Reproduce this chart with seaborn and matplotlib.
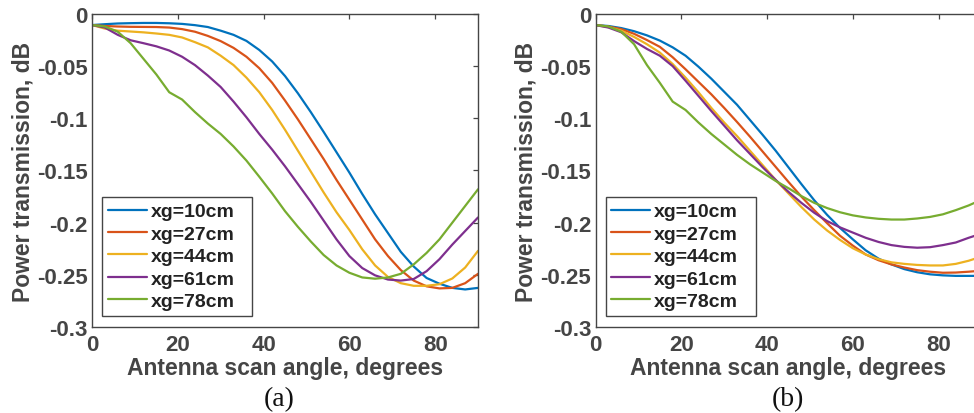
import matplotlib
matplotlib.use("Agg")
import matplotlib.pyplot as plt
import seaborn as sns

# scan angle grid (degrees)
angle = list(range(0, 91, 3))

labels = ["xg=10cm", "xg=27cm", "xg=44cm", "xg=61cm", "xg=78cm"]
colors = ["#0072BD", "#D95319", "#EDB120", "#7E2F8E", "#77AC30"]

# panel (a)
a_xg10 = [-0.0106, -0.0098, -0.0091, -0.0088, -0.0086, -0.0086, -0.0089, -0.0095, -0.0107, -0.0125,
          -0.016, -0.020, -0.0258, -0.0345, -0.0455, -0.0595, -0.076, -0.094, -0.113, -0.1325,
          -0.152, -0.1725, -0.192, -0.210, -0.228, -0.242, -0.253, -0.2585, -0.2625, -0.264, -0.2625]
a_xg27 = [-0.0106, -0.0115, -0.012, -0.0123, -0.0124, -0.0125, -0.013, -0.0145, -0.017, -0.021,
          -0.026, -0.0325, -0.041, -0.052, -0.066, -0.083, -0.101, -0.120, -0.139, -0.159,
          -0.178, -0.197, -0.216, -0.232, -0.2455, -0.2555, -0.261, -0.263, -0.2625, -0.258, -0.249]
a_xg44 = [-0.0106, -0.014, -0.016, -0.0168, -0.0176, -0.0187, -0.020, -0.0225, -0.027, -0.032,
          -0.040, -0.049, -0.061, -0.075, -0.092, -0.111, -0.131, -0.151, -0.171, -0.190,
          -0.207, -0.2255, -0.241, -0.252, -0.258, -0.2605, -0.2605, -0.259, -0.2535, -0.243, -0.227]
a_xg61 = [-0.0106, -0.013, -0.020, -0.0252, -0.028, -0.031, -0.035, -0.041, -0.049, -0.059,
          -0.070, -0.084, -0.099, -0.115, -0.130, -0.146, -0.163, -0.180, -0.198, -0.216,
          -0.232, -0.2435, -0.2505, -0.2545, -0.2555, -0.254, -0.2465, -0.235, -0.221, -0.208, -0.195]
a_xg78 = [-0.0106, -0.012, -0.017, -0.028, -0.043, -0.058, -0.075, -0.082, -0.094, -0.105,
          -0.115, -0.127, -0.1405, -0.156, -0.172, -0.189, -0.204, -0.218, -0.231, -0.241,
          -0.248, -0.2525, -0.2537, -0.2525, -0.249, -0.240, -0.229, -0.216, -0.200, -0.184, -0.168]

# panel (b)
b_xg10 = [-0.0106, -0.0115, -0.0135, -0.0165, -0.0205, -0.0255, -0.032, -0.040, -0.0505, -0.062,
          -0.0745, -0.087, -0.1015, -0.116, -0.131, -0.147, -0.163, -0.1785, -0.1925, -0.205,
          -0.216, -0.2265, -0.2345, -0.240, -0.2445, -0.2475, -0.2495, -0.2505, -0.251, -0.251, -0.251]
b_xg27 = [-0.0106, -0.012, -0.0145, -0.019, -0.025, -0.0315, -0.0415, -0.053, -0.065, -0.077,
          -0.090, -0.1035, -0.1175, -0.132, -0.1465, -0.161, -0.175, -0.188, -0.2005, -0.2125,
          -0.222, -0.2305, -0.236, -0.240, -0.243, -0.2455, -0.247, -0.248, -0.2478, -0.247, -0.246]
b_xg44 = [-0.0106, -0.0125, -0.016, -0.022, -0.029, -0.037, -0.048, -0.061, -0.075, -0.090,
          -0.104, -0.117, -0.131, -0.145, -0.159, -0.172, -0.185, -0.197, -0.2075, -0.2165,
          -0.2245, -0.2305, -0.235, -0.238, -0.2395, -0.2405, -0.241, -0.241, -0.2395, -0.2365, -0.2325]
b_xg61 = [-0.0106, -0.013, -0.0175, -0.026, -0.0335, -0.040, -0.050, -0.064, -0.0785, -0.093,
          -0.107, -0.121, -0.134, -0.147, -0.159, -0.1705, -0.181, -0.1905, -0.1985, -0.2045,
          -0.2095, -0.2145, -0.2185, -0.2215, -0.2232, -0.224, -0.2235, -0.2215, -0.219, -0.2145, -0.2105]
b_xg78 = [-0.0106, -0.012, -0.017, -0.029, -0.049, -0.066, -0.084, -0.092, -0.104, -0.115,
          -0.125, -0.135, -0.144, -0.152, -0.160, -0.167, -0.1745, -0.181, -0.186, -0.190,
          -0.193, -0.195, -0.1963, -0.197, -0.197, -0.196, -0.1945, -0.192, -0.188, -0.1835, -0.178]

yticks = [-0.3, -0.25, -0.2, -0.15, -0.1, -0.05, 0]
ytick_labels = ["-0.3", "-0.25", "-0.2", "-0.15", "-0.1", "-0.05", "0"]
xticks = [0, 20, 40, 60, 80]

sns.set_theme(style="white")
plt.rcParams["font.family"] = ["Liberation Sans", "DejaVu Sans"]
plt.rcParams["font.weight"] = "bold"
plt.rcParams["axes.labelweight"] = "bold"

gray = "#454545"

fig = plt.figure(figsize=(9.74, 4.14), dpi=100)
ax_a = fig.add_axes([0.0945, 0.2077, 0.3963, 0.7561])
ax_b = fig.add_axes([0.6114, 0.2077, 0.3963, 0.7561])

panels = [(ax_a, [a_xg10, a_xg27, a_xg44, a_xg61, a_xg78], "(a)", 0.287),
          (ax_b, [b_xg10, b_xg27, b_xg44, b_xg61, b_xg78], "(b)", 0.8085)]

for ax, series, tag, tx in panels:
    for vals, lab, c in zip(series, labels, colors):
        sns.lineplot(x=angle, y=vals, color=c, linewidth=1.6, label=lab, ax=ax)
    ax.set_xlim(0, 90)
    ax.set_ylim(-0.3, 0)
    ax.set_xticks(xticks)
    ax.set_xticklabels([str(t) for t in xticks])
    ax.set_yticks(yticks)
    ax.set_yticklabels(ytick_labels)
    ax.tick_params(direction="in", top=True, right=True, length=3.5, width=0.9,
                   color=gray, labelcolor=gray, labelsize=16)
    ax.tick_params(axis="x", pad=5)
    ax.tick_params(axis="y", pad=3)
    for sp in ax.spines.values():
        sp.set_color(gray)
        sp.set_linewidth(1.0)
    ax.set_xlabel("Antenna scan angle, degrees", fontsize=16.5, color=gray)
    ax.set_ylabel("Power transmission, dB", fontsize=16.5, color=gray)
    ax.xaxis.set_label_coords(0.5, -0.093)
    ax.yaxis.set_label_coords(-0.15, 0.5)
    # legend frame is wider than its contents, as in the original
    leg = ax.legend(loc="lower left", bbox_to_anchor=(0.026, 0.035, 0.389, 0.3),
                    mode="expand", borderaxespad=0,
                    fontsize=14, handlelength=2.0, handletextpad=0.2, labelspacing=0.25,
                    borderpad=0.3, fancybox=False, framealpha=1, edgecolor=gray)
    leg.get_frame().set_linewidth(1.0)
    for t in leg.get_texts():
        t.set_color("#222222")
    fig.text(tx, 0.034, tag, ha="center", va="center", fontsize=20,
             family=["Liberation Serif", "DejaVu Serif"], fontweight="normal", color="#111111")

fig.savefig("out.png", dpi=100)
